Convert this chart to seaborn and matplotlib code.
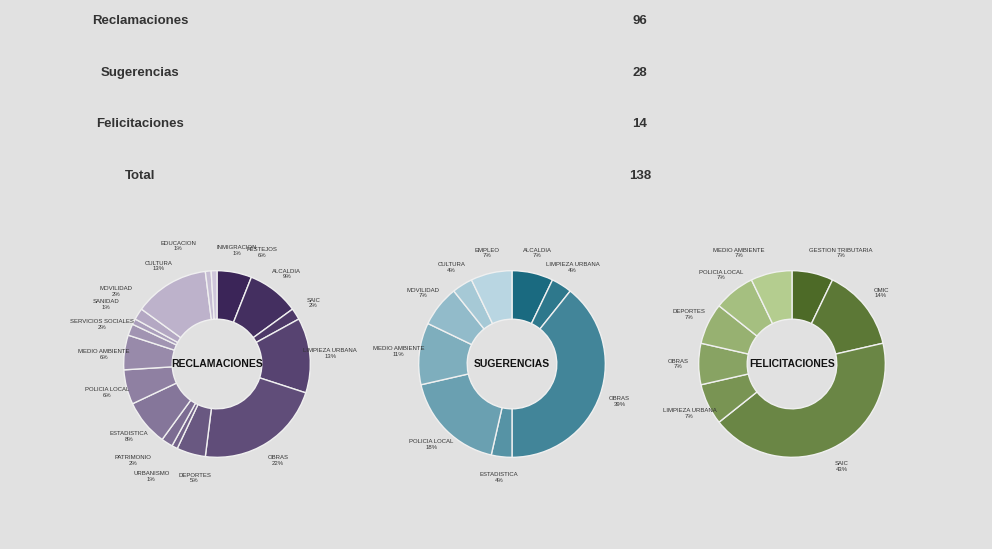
import matplotlib
matplotlib.use("Agg")
import matplotlib.pyplot as plt
import seaborn as sns
import numpy as np

sns.set_theme(style="white")
plt.rcParams['font.family'] = ['Liberation Sans', 'DejaVu Sans']

BG = "#e1e1e1"

# Summary table
tipos = ["Reclamaciones", "Sugerencias", "Felicitaciones", "Total"]
totales = [96, 28, 14, 138]

# Donut data (percentages / counts, clockwise from 12 o'clock)
rec_labels = ["FESTEJOS", "ALCALDIA", "SAIC", "LIMPIEZA URBANA", "OBRAS", "DEPORTES",
              "URBANISMO", "PATRIMONIO", "ESTADISTICA", "POLICIA LOCAL", "MEDIO AMBIENTE",
              "SERVICIOS SOCIALES", "SANIDAD", "MOVILIDAD", "CULTURA", "EDUCACION", "INMIGRACION"]
rec_values = [6, 9, 2, 13, 22, 5, 1, 2, 8, 6, 6, 2, 1, 2, 13, 1, 1]

sug_labels = ["ALCALDIA", "LIMPIEZA URBANA", "OBRAS", "ESTADISTICA", "POLICIA LOCAL",
              "MEDIO AMBIENTE", "MOVILIDAD", "CULTURA", "EMPLEO"]
sug_values = [2, 1, 11, 1, 5, 3, 2, 1, 2]

fel_labels = ["GESTION TRIBUTARIA", "OMIC", "SAIC", "LIMPIEZA URBANA", "OBRAS",
              "DEPORTES", "POLICIA LOCAL", "MEDIO AMBIENTE"]
fel_values = [1, 2, 6, 1, 1, 1, 1, 1]

# label nudges (data units) for crowded small slices
rec_nudge = {"EDUCACION": (-0.3, 0.05), "INMIGRACION": (0.25, 0.0), "FESTEJOS": (0.25, 0.0),
             "URBANISMO": (-0.15, -0.12), "PATRIMONIO": (-0.25, 0.0), "DEPORTES": (0.1, -0.05),
             "MOVILIDAD": (-0.05, 0.12), "SANIDAD": (-0.1, 0.08), "SERVICIOS SOCIALES": (-0.1, -0.03),
             "MEDIO AMBIENTE": (0.0, -0.05)}
fel_nudge = {"MEDIO AMBIENTE": (-0.3, 0.0), "GESTION TRIBUTARIA": (0.25, 0.0)}

fig = plt.figure(figsize=(9.92, 5.49), dpi=100)
fig.patch.set_facecolor(BG)

W, H = 992, 549
row_y = [21, 73, 124, 176]
for name, val, y in zip(tipos, totales, row_y):
    fig.text(140 / W, 1 - y / H, name, ha="center", va="center",
             fontsize=9.5, fontweight="bold", color="#333333")
    fig.text(640 / W, 1 - y / H, str(val), ha="center", va="center",
             fontsize=9.5, fontweight="bold", color="#333333")


def donut(cx, cy, labels, values, dark, light, title, nudge=None):
    nudge = nudge or {}
    size = 280
    ax = fig.add_axes([(cx - size / 2) / W, 1 - (cy + size / 2) / H, size / W, size / H])
    ax.set_facecolor(BG)
    n = len(values)
    cmap = sns.blend_palette([dark, light], n_colors=n)
    total = sum(values)
    texts = [f"{l}\n{round(v / total * 100)}%" for l, v in zip(labels, values)]
    _, tx = ax.pie(values, labels=texts, colors=cmap, startangle=90, counterclock=False,
                   radius=1, labeldistance=1.22,
                   wedgeprops=dict(width=0.52, edgecolor="#f0f0f0", linewidth=1),
                   textprops=dict(fontsize=4.3, color="#333333", ha="center"))
    for t, l in zip(tx, labels):
        t.set_ha("center")
        if l in nudge:
            x, y = t.get_position()
            dx, dy = nudge[l]
            t.set_position((x + dx, y + dy))
    ax.text(0, 0, title, ha="center", va="center", fontsize=7.5, fontweight="bold",
            color="#111111")
    ax.set_xlim(-1.5, 1.5)
    ax.set_ylim(-1.5, 1.5)
    ax.set_aspect("equal")
    ax.axis("off")


donut(217, 364, rec_labels, rec_values, "#3b2558", "#cfc6db", "RECLAMACIONES", rec_nudge)
donut(512, 364, sug_labels, sug_values, "#1a6a80", "#b9d6e2", "SUGERENCIAS")
donut(792, 364, fel_labels, fel_values, "#4d6a27", "#b4cd8f", "FELICITACIONES", fel_nudge)

fig.savefig("out.png", dpi=100, facecolor=BG)
